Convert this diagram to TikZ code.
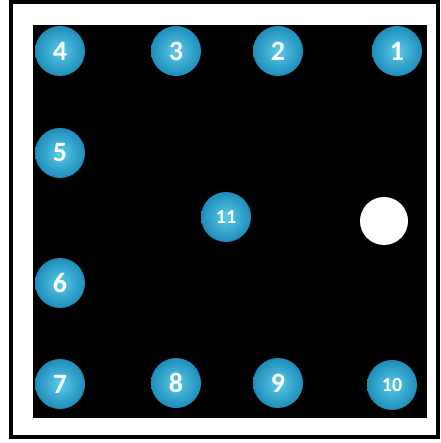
\documentclass[tikz,border=0pt]{standalone}
\usepackage{fontspec}
\setmainfont{Carlito}
\definecolor{ballin}{HTML}{5CCBEA}
\definecolor{ballout}{HTML}{1E8DBA}
\tikzset{
  ball/.style={circle, minimum size=50pt, inner sep=0pt, shading=radial,
    inner color=ballin, outer color=ballout, text=white,
    font=\bfseries\fontsize{28}{28}\selectfont},
  smallball/.style={ball, font=\bfseries\fontsize{20}{20}\selectfont},
  hole/.style={circle, minimum size=48pt, inner sep=0pt, fill=white},
}
\begin{document}
\begin{tikzpicture}[x=1pt,y=-1pt]
\useasboundingbox (0,0) rectangle (440,443);
\fill[white] (0,0) rectangle (440,443);
\draw[line width=4pt] (11,2) rectangle (438,436.5);
\fill[black] (33,25) rectangle (427,418);
\node[ball] (n4) at (60,51) {4};
\node[ball] (n3) at (176,51) {3};
\node[ball] (n2) at (278,51) {2};
\node[ball] (n1) at (397,51) {1};
\node[ball] (n5) at (60,153) {5};
\node[smallball] (n11) at (226,217) {11};
\node[hole] (w) at (384,221) {};
\node[ball] (n6) at (60,283) {6};
\node[ball] (n7) at (60,384) {7};
\node[ball] (n8) at (176,383) {8};
\node[ball] (n9) at (278,383) {9};
\node[smallball] (n10) at (392,385) {10};
\end{tikzpicture}
\end{document}
